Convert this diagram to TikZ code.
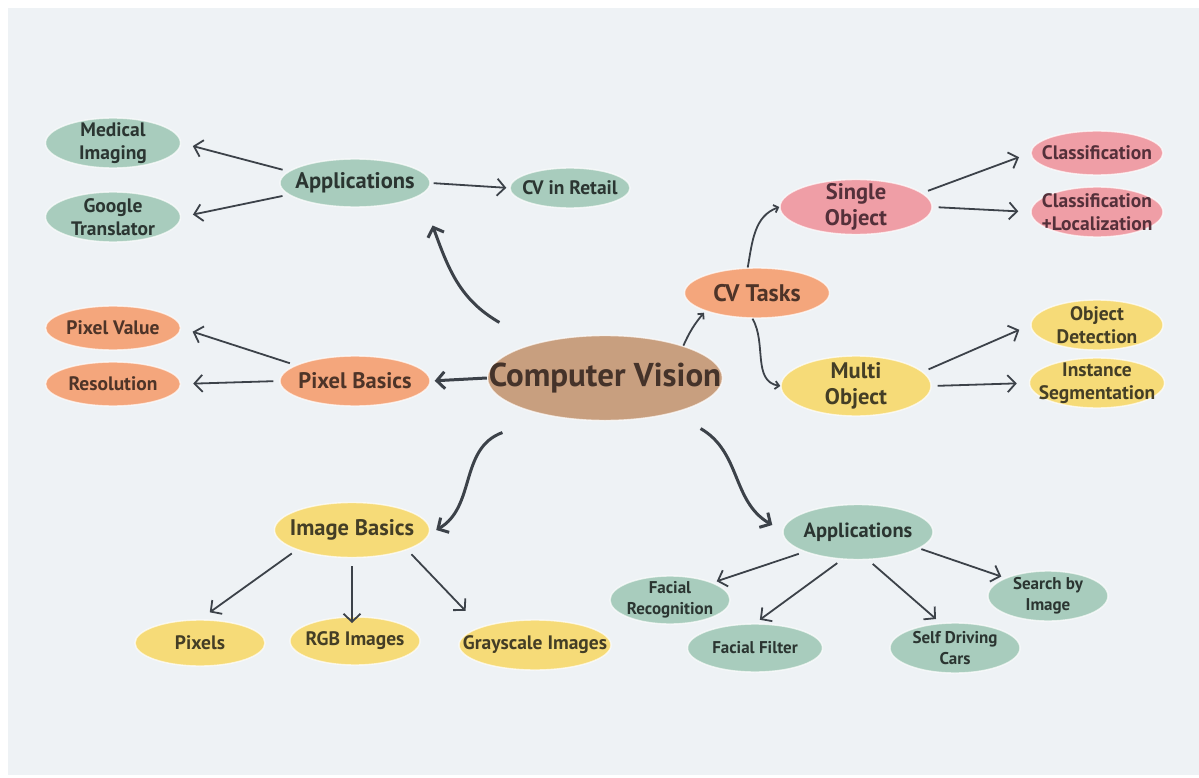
\documentclass[tikz,border=0pt]{standalone}
\usepackage{fontspec}
\setmainfont{PT Sans}
\usetikzlibrary{shapes.geometric,arrows.meta}

\definecolor{bgcol}{HTML}{EEF2F5}
\definecolor{grnfill}{HTML}{A8CCBD}
\definecolor{grntext}{HTML}{2B3531}
\definecolor{orgfill}{HTML}{F4A67C}
\definecolor{orgtext}{HTML}{4E3428}
\definecolor{pnkfill}{HTML}{EF9EA6}
\definecolor{pnktext}{HTML}{54303A}
\definecolor{ylwfill}{HTML}{F6DB78}
\definecolor{ylwtext}{HTML}{443E26}
\definecolor{tanfill}{HTML}{C89F7F}
\definecolor{tantext}{HTML}{45332A}
\definecolor{arrcol}{HTML}{3C4249}

\begin{document}
\begin{tikzpicture}[x=1pt,y=1pt,
  bub/.style={ellipse,inner xsep=-40pt,inner ysep=-15pt,align=center,draw=white,draw opacity=0.7,line width=1.4pt,
    font=\bfseries\fontsize{19.5}{23}\selectfont},
  big/.style={font=\bfseries\fontsize{22.5}{26}\selectfont},
  small/.style={font=\bfseries\fontsize{17}{21}\selectfont},
  grn/.style={bub,fill=grnfill,text=grntext},
  org/.style={bub,fill=orgfill,text=orgtext},
  pnk/.style={bub,fill=pnkfill,text=pnktext},
  ylw/.style={bub,fill=ylwfill,text=ylwtext},
  arr/.style={draw=arrcol,line width=1.8pt,-{Straight Barb[length=8pt,width=17pt]},shorten >=12pt,shorten <=6pt},
  curv/.style={draw=arrcol,line width=1.8pt,-{Straight Barb[length=4pt,width=8pt]}},
  bigarr/.style={draw=arrcol,line width=3pt,-{Straight Barb[length=8pt,width=17pt]}}]
\useasboundingbox (0,0) rectangle (1199,-778);
\fill[bgcol] (8,-8) rectangle (1199,-775);

% centre
\node[bub,fill=tanfill,text=tantext,minimum width=235pt,minimum height=85pt,
  font=\bfseries\fontsize{33}{38}\selectfont] (cv) at (605,-378) {Computer Vision};

% applications (top)
\node[grn,big,minimum width=150pt,minimum height=48pt] (appT) at (355,-183) {Applications};
\node[grn,minimum width=120pt,minimum height=40pt] (retail) at (570,-188) {CV in Retail};
\node[grn,minimum width=135pt,minimum height=50pt] (medical) at (113,-143) {Medical\\Imaging};
\node[grn,minimum width=135pt,minimum height=50pt] (google) at (113,-217) {Google\\Translator};

% pixel basics
\node[org,big,minimum width=150pt,minimum height=50pt] (pixB) at (355,-381) {Pixel Basics};
\node[org,minimum width=135pt,minimum height=44pt] (pixV) at (113,-328) {Pixel Value};
\node[org,minimum width=135pt,minimum height=44pt] (resol) at (113,-384) {Resolution};

% cv tasks
\node[org,minimum width=145pt,minimum height=50pt,font=\bfseries\fontsize{24}{28}\selectfont] (tasks) at (757,-293) {CV Tasks};
\node[pnk,big,minimum width=152pt,minimum height=55pt] (single) at (856,-207) {Single\\Object};
\node[pnk,minimum width=132pt,minimum height=44pt] (cls) at (1097,-153) {Classification};
\node[pnk,minimum width=132pt,minimum height=50pt] (clsloc) at (1097,-212) {Classification\\+Localization};
\node[ylw,big,minimum width=150pt,minimum height=60pt] (multi) at (856,-386) {Multi\\Object};
\node[ylw,minimum width=132pt,minimum height=50pt] (objdet) at (1097,-325) {Object\\Detection};
\node[ylw,minimum width=135pt,minimum height=50pt] (inst) at (1097,-383) {Instance\\Segmentation};

% image basics
\node[ylw,big,minimum width=155pt,minimum height=55pt] (imgB) at (352,-530) {Image Basics};
\node[ylw,minimum width=130pt,minimum height=46pt] (pixels) at (200,-643) {Pixels};
\node[ylw,minimum width=130pt,minimum height=48pt] (rgb) at (355,-641) {RGB Images};
\node[ylw,minimum width=152pt,minimum height=50pt] (gray) at (535,-645) {Grayscale Images};

% applications (bottom)
\node[grn,minimum width=150pt,minimum height=55pt,font=\bfseries\fontsize{20.5}{24}\selectfont] (appB) at (858,-532) {Applications};
\node[grn,small,minimum width=120pt,minimum height=48pt] (facrec) at (670,-600) {Facial\\Recognition};
\node[grn,small,minimum width=135pt,minimum height=48pt] (facfil) at (755,-648) {Facial Filter};
\node[grn,small,minimum width=130pt,minimum height=50pt] (self) at (955,-648) {Self Driving\\Cars};
\node[grn,small,minimum width=120pt,minimum height=50pt] (search) at (1048,-596) {Search by\\Image};

% from the centre
\draw[bigarr] ([shift={(-22,25)}]cv.north west) to[out=150,in=-70] ([shift={(24,-25)}]appT.south east);
\draw[bigarr,shorten >=4pt] (cv.west) -- (pixB.east);
\draw[bigarr] ([shift={(-19,-24)}]cv.south west) to[out=200,in=30] ([shift={(6,0)}]imgB.east);
\draw[bigarr] ([shift={(12,-20)}]cv.south east) to[out=-30,in=150] ([shift={(-10,7)}]appB.west);
\draw[curv,shorten <=2pt,shorten >=2pt] ([xshift=-6pt]cv.north east) to[bend left=8] (tasks.south west);

% cv tasks
\draw[curv] (tasks.110) to[out=80,in=200] (single.west);
\draw[curv] (tasks.-100) to[out=-60,in=170] (multi.west);
\draw[arr] (single.12) -- (cls.west);
\draw[arr] (single.east) -- (clsloc.west);
\draw[arr] (multi.12) -- (objdet.west);
\draw[arr] (multi.east) -- (inst.west);

% left side
\draw[arr] (appT.170) -- (medical.east);
\draw[arr] (appT.190) -- (google.east);
\draw[arr,shorten >=3pt,shorten <=3pt] (appT.east) -- (retail.west);
\draw[arr] (pixB.165) -- (pixV.east);
\draw[arr] (pixB.west) -- (resol.east);

% image basics
\draw[arr] (imgB.south west) -- (pixels.north);
\draw[arr,shorten <=8pt,shorten >=18pt] (imgB) -- (imgB |- rgb);
\draw[arr,shorten >=22pt] (imgB.south east) -- (gray.north west);

% applications (bottom)
\draw[arr,shorten >=4pt] (appB.south west) -- (facrec.north east);
\draw[arr,shorten >=6pt] (appB.240) -- (facfil.north);
\draw[arr,shorten >=6pt] (appB.290) -- (self.120);
\draw[arr,shorten >=4pt,shorten <=2pt] (appB.-15) -- (search.north west);
\end{tikzpicture}
\end{document}
